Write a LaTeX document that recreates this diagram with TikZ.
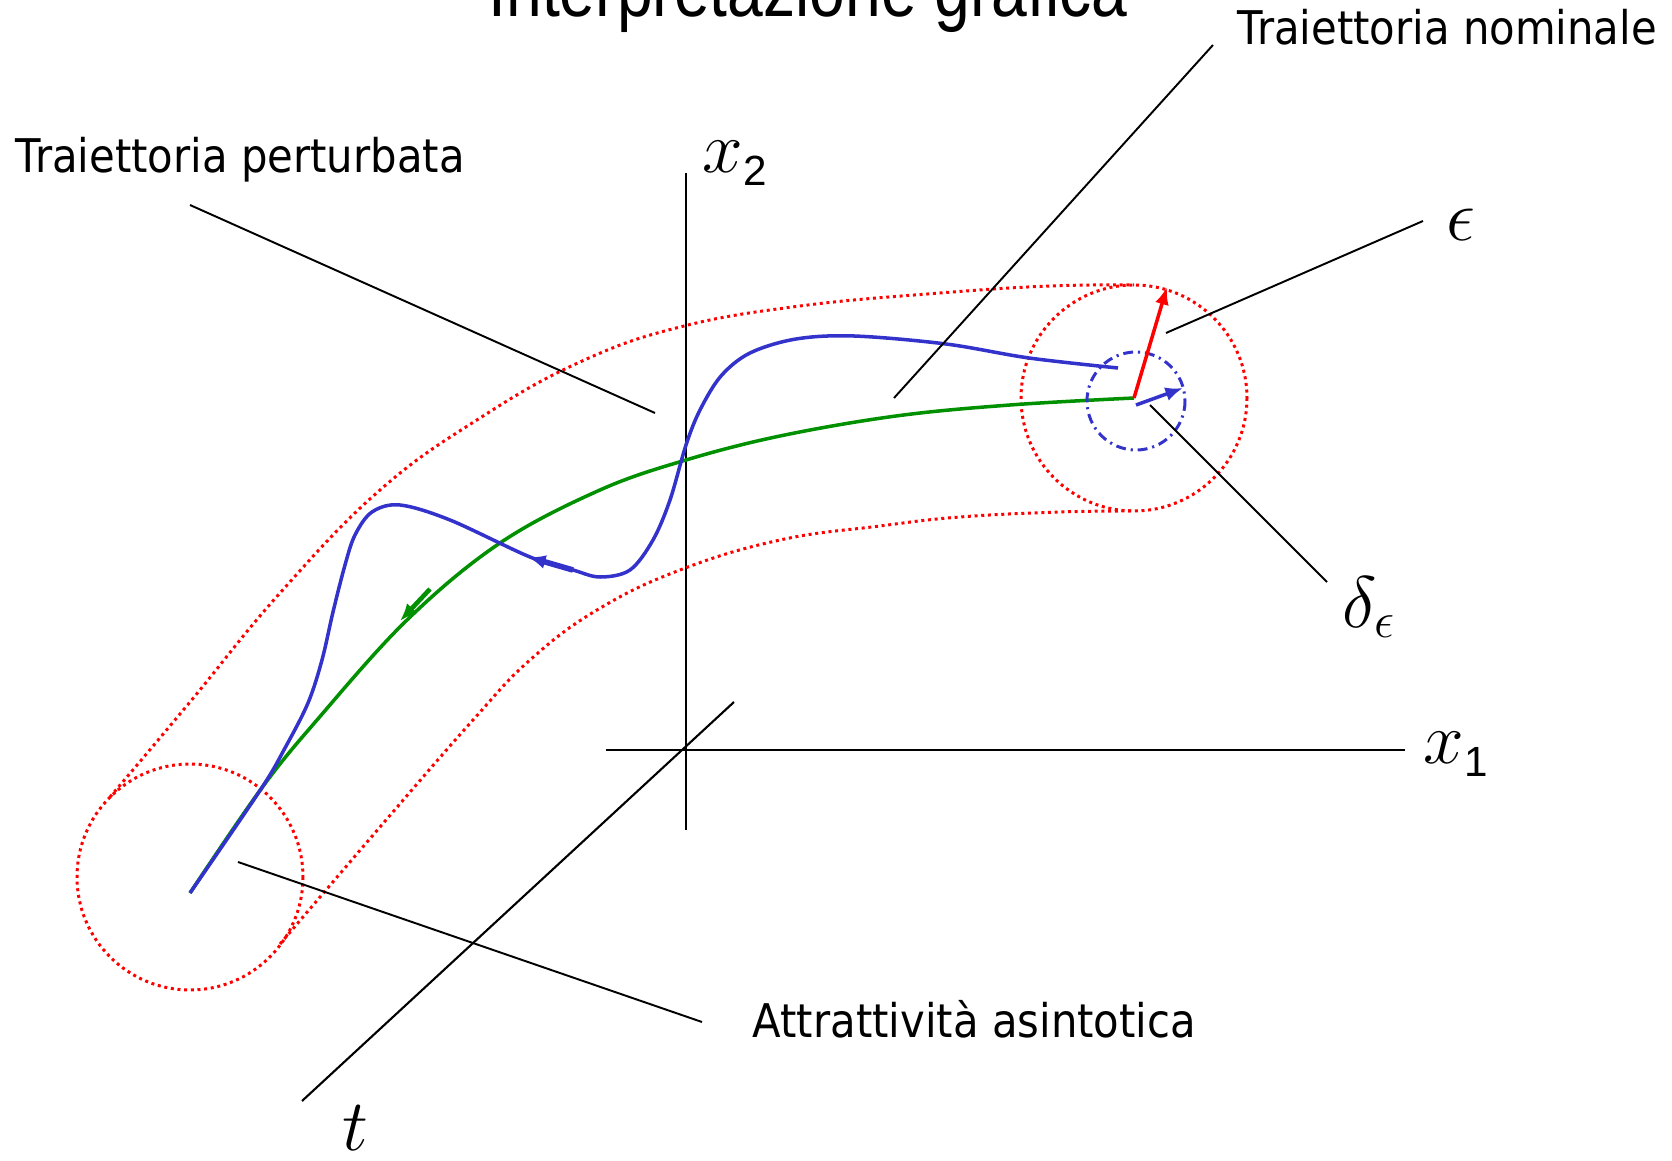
\documentclass[tikz,border=0pt]{standalone}
\usepackage{fontspec}
\setmainfont{DejaVu Sans}[FakeStretch=0.9]
\newfontfamily\titlefont{Liberation Sans}[FakeStretch=0.83]
\newfontfamily\digitfont{Liberation Sans}
\usetikzlibrary{arrows.meta}
\definecolor{TrajBlue}{HTML}{3333CC}
\definecolor{TrajGreen}{HTML}{009000}
\definecolor{TubeRed}{HTML}{FF0000}

\begin{document}
\begin{tikzpicture}[x=0.01cm,y=-0.01cm,>=Latex,
  lbl/.style={font=\fontsize{13.2}{16}\selectfont,anchor=base west,inner sep=0pt},
  mlbl/.style={font=\fontsize{20}{24}\selectfont,anchor=base west,inner sep=0pt},
  leader/.style={line width=0.55pt},
  axisline/.style={line width=0.6pt},
  tube/.style={draw=TubeRed,line width=0.85pt,dash pattern=on 0.85pt off 1.05pt},
  nominal/.style={draw=TrajGreen,line width=1pt},
  perturbed/.style={draw=TrajBlue,line width=1pt},
  dirtip/.style={-{Latex[length=5pt,width=4pt]}}]
  \useasboundingbox (0,0) rectangle (1672,1161);

  % title (cut by the page)
  \node[anchor=base,inner sep=0pt,font=\titlefont\fontsize{22}{26}\selectfont] (title) at (808,17) {Interpretazione grafica};

  % labels
  \node[lbl] (lblNom) at (1237,45) {Traiettoria nominale};
  \node[lbl] (lblPert) at (15,173) {Traiettoria perturbata};
  \node[lbl] (lblAttr) at (752,1037) {Attrattività asintotica};
  \node[mlbl] (lblXtwo) at (702,173) {$x$\raisebox{-3.6pt}{\digitfont\fontsize{12}{14}\selectfont 2}};
  \node[mlbl] (lblXone) at (1423,763) {$x$\raisebox{-3.8pt}{\digitfont\fontsize{12}{14}\selectfont 1}};
  \node[mlbl] (lblT) at (342,1150) {$t$};
  \node[mlbl] (lblEps) at (1446,241) {$\epsilon$};
  \node[mlbl] (lblDelta) at (1342,627) {$\delta_\epsilon$};

  % axes
  \coordinate (xtwoA) at (686,173);
  \coordinate (xtwoB) at (686,830);
  \coordinate (xoneA) at (606,750);
  \coordinate (xoneB) at (1405,750);
  \coordinate (tA) at (734,702);
  \coordinate (tB) at (302,1101);
  \draw[axisline] (xtwoA) -- (xtwoB);
  \draw[axisline] (xoneA) -- (xoneB);
  \draw[axisline] (tA) -- (tB);

  % centres of the balls
  \coordinate (startC) at (190,877);
  \coordinate (endC) at (1134,398);
  \coordinate (deltaC) at (1136,401);
  \coordinate (epsTip) at (1167,287);
  \coordinate (dltA) at (1136,405);
  \coordinate (dltTip) at (1183,388);

  % tube
  \draw[tube] (startC) circle[radius=113];
  \draw[tube] (endC) circle[radius=113];
  \draw[tube] plot[smooth,tension=0.7] coordinates {(110,797) (190,702) (280,593)
    (380,490) (480,418) (580,362) (680,327) (800,306) (940,293) (1050,286) (1134,285)};
  \draw[tube] plot[smooth,tension=0.7] coordinates {(280,944) (380,827)
    (473,720) (530,660) (597,610) (680,570) (780,540) (880,526) (960,517) (1060,512)
    (1134,511)};

  % nominal trajectory
  \draw[nominal] plot[smooth,tension=0.6] coordinates {(190,893) (261,789) (317,720) (407,620)
    (500,543) (600,490) (686,460) (780,436) (896,416) (1010,405) (1134,398)};
  \draw[TrajGreen,line width=1.3pt,dirtip] (430,589) -- (400,621);

  % perturbed trajectory
  \draw[perturbed] plot[smooth,tension=0.55] coordinates {(1118,368) (1029,358) (946,344)
    (854,336) (796,339) (750,353) (721,376) (700,410) (686,445) (670,500) (653,540)
    (630,570) (600,577) (573,570) (530,557) (450,520) (400,505) (372,512) (355,535)
    (345,565) (333,612) (322,660) (308,703) (285,748) (261,789) (190,893)};
  \draw[TrajBlue,line width=1.6pt,dirtip] (573,570) -- (528,557);

  % delta ball and radii
  \draw[perturbed,line width=0.85pt,dash pattern=on 2.8pt off 1.4pt on 0.6pt off 1.4pt]
    (deltaC) circle[radius=49];
  \draw[TubeRed,line width=1pt,dirtip] (endC) -- (epsTip);
  \draw[TrajBlue,line width=1pt,dirtip] (dltA) -- (dltTip);

  % leaders
  \coordinate (nomA) at (1213,45);
  \coordinate (nomB) at (894,398);
  \coordinate (pertA) at (190,205);
  \coordinate (pertB) at (655,413);
  \coordinate (epsA) at (1423,221);
  \coordinate (epsB) at (1166,333);
  \coordinate (dlA) at (1150,405);
  \coordinate (dlB) at (1327,582);
  \coordinate (attrA) at (238,862);
  \coordinate (attrB) at (702,1022);
  \draw[leader] (nomA) -- (nomB);
  \draw[leader] (pertA) -- (pertB);
  \draw[leader] (epsA) -- (epsB);
  \draw[leader] (dlA) -- (dlB);
  \draw[leader] (attrA) -- (attrB);
\end{tikzpicture}
\end{document}
